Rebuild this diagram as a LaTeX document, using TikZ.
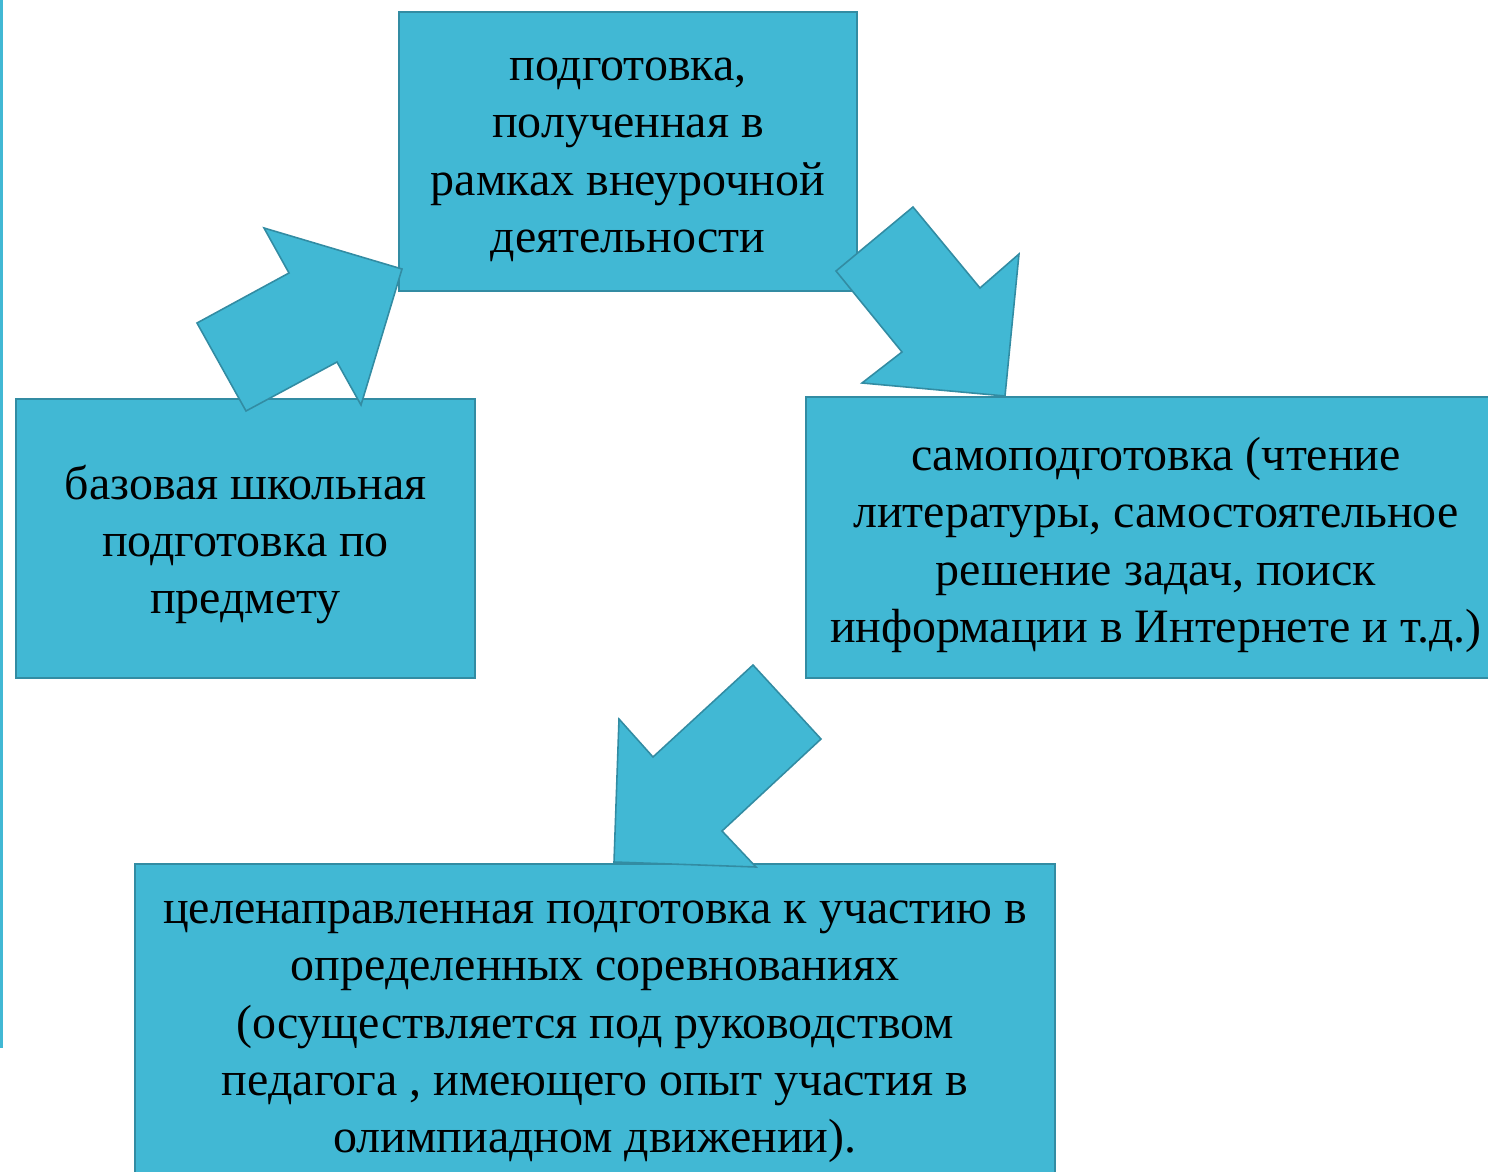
\documentclass[tikz,border=0pt]{standalone}
\usepackage{fontspec}
\setmainfont{Liberation Serif}
\definecolor{boxfill}{RGB}{65,184,212}
\definecolor{boxline}{RGB}{50,140,163}
\begin{document}
\begin{tikzpicture}[x=0.02cm,y=-0.02cm,
  box/.style={draw=boxline,fill=boxfill,line width=0.9pt,inner sep=0pt},
  boxtext/.style={align=center,inner sep=0pt,font=\fontsize{27.3}{32.6}\selectfont},
  blockarrow/.style={draw=boxline,fill=boxfill,line width=0.9pt,line join=miter}]
  \useasboundingbox (0,0) rectangle (1488,1172);
  \clip (0,0) rectangle (1488,1172);
  \fill[boxfill] (0,0) rectangle (3,1048);
  \node[box,minimum width=458*0.02cm,minimum height=279*0.02cm] (extra) at (628,151.5) {};
  \node[box,minimum width=459*0.02cm,minimum height=279*0.02cm] (school) at (245.5,538.5) {};
  \node[box,minimum width=700*0.02cm,minimum height=281*0.02cm] (self) at (1156,537.5) {};
  \node[box,minimum width=920*0.02cm,minimum height=320*0.02cm] (target) at (595,1024) {};
  \node[boxtext] (extratext) at ([yshift=-4.8pt]extra.center)
    {подготовка,\\ полученная в\\ рамках внеурочной\\ деятельности};
  \node[boxtext] (schooltext) at ([yshift=-3.4pt]school.center)
    {базовая школьная\\ подготовка по\\ предмету};
  \node[boxtext] (selftext) at ([yshift=-4.2pt]self.center)
    {самоподготовка (чтение\\ литературы, самостоятельное\\ решение задач, поиск\\ информации в Интернете и т.д.)};
  \node[boxtext] (targettext) at ([yshift=-4.5pt]target.center)
    {целенаправленная подготовка к участию в\\ определенных соревнованиях\\ (осуществляется под руководством\\ педагога , имеющего опыт участия в\\ олимпиадном движении).};
  \draw[blockarrow] (402,269) -- (264,228) -- (289,273) -- (197,323) -- (246,411)
    -- (337,362) -- (361,405) -- cycle;
  \draw[blockarrow] (1005,396) -- (1019,254) -- (980,288) -- (913,207) -- (836,271)
    -- (902,352) -- (862,383) -- cycle;
  \draw[blockarrow] (614,862) -- (619,719) -- (653,757) -- (753,665) -- (821,739)
    -- (722,831) -- (756,867) -- cycle;
\end{tikzpicture}
\end{document}
